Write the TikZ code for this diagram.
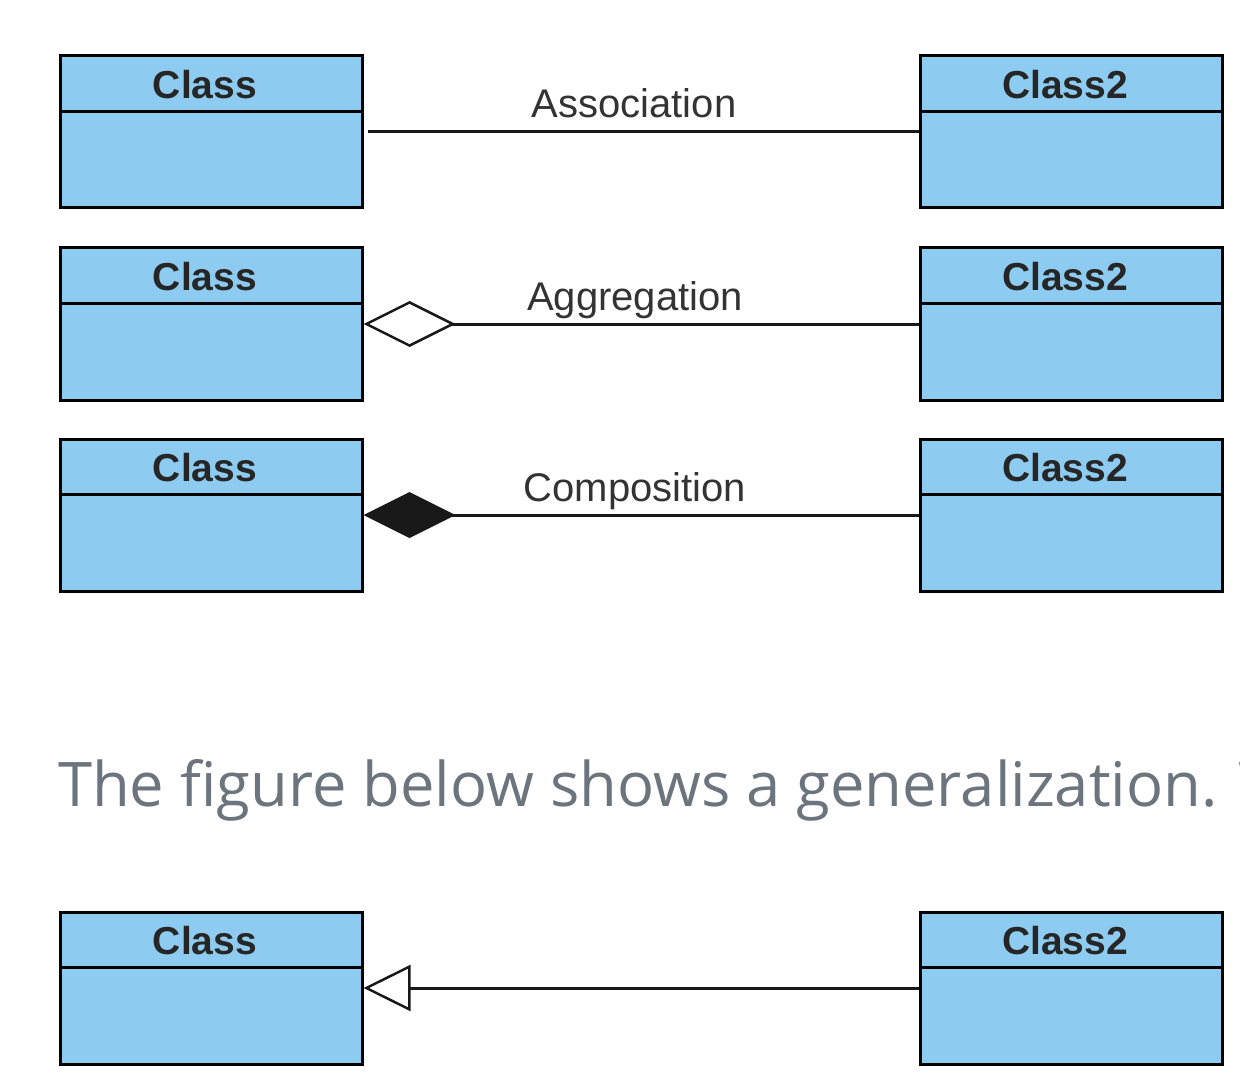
\documentclass[tikz,border=0pt]{standalone}
\usepackage{fontspec}
\setmainfont{Liberation Sans}
\newfontfamily\titlefont{Open Sans}
\usetikzlibrary{arrows.meta}
\definecolor{clsfill}{RGB}{142,203,240}
\definecolor{titlegray}{RGB}{108,117,125}
\tikzset{
  cls/.style={draw=black, line width=3pt, fill=clsfill, minimum width=302pt, minimum height=152pt, inner sep=0pt},
  clsname/.style={anchor=base, font=\fontsize{39}{46}\selectfont\bfseries, text=black!85, inner sep=0pt},
  divider/.style={line width=2.2pt, black},
  conn/.style={line width=3pt, black!90},
  rellabel/.style={font=\fontsize{40}{48}\selectfont, text=black!80, inner sep=0pt, anchor=base}
}
\newcommand{\umlclass}[4]{% name, center x, center y, label
  \node[cls] (#1) at (#2,#3) {};
  \draw[divider] ([yshift=-57pt]#1.north west) -- ([yshift=-57pt]#1.north east);
  \node[clsname] (#1-name) at ([xshift=-6pt,yshift=-44pt]#1.north) {#4};
}
\begin{document}
\begin{tikzpicture}[x=1pt,y=-1pt]
\useasboundingbox (0,0) rectangle (1240,1086);
\clip (0,0) rectangle (1240,1086);
% row 1: association
\umlclass{a1}{211}{132}{Class}
\umlclass{b1}{1071}{132}{Class2}
\draw[conn] ([xshift=4pt]a1.east) -- (b1.west);
\node[rellabel] (lab1) at (634,118) {Association};
% row 2: aggregation
\umlclass{a2}{211}{324}{Class}
\umlclass{b2}{1071}{324}{Class2}
\draw[conn, {Diamond[open, fill=white, length=92pt, width=46pt, line width=2.5pt]}-] (a2.east) -- (b2.west);
\node[rellabel] (lab2) at (635,310) {Aggregation};
% row 3: composition
\umlclass{a3}{211}{515}{Class}
\umlclass{b3}{1071}{515}{Class2}
\draw[conn, {Diamond[length=92pt, width=46pt]}-] (a3.east) -- (b3.west);
\node[rellabel] (lab3) at (635,501) {Composition};
% text
\node[anchor=base west, inner sep=0pt, text=titlegray, font=\titlefont\fontsize{61.5}{72}\selectfont] (title) at (58,806) {The figure below shows a generalization. W};
% row 4: generalization
\umlclass{a4}{211}{988}{Class}
\umlclass{b4}{1071}{988}{Class2}
\draw[conn, {Triangle[open, fill=white, length=47pt, width=46pt, line width=2.5pt]}-] (a4.east) -- (b4.west);
\end{tikzpicture}
\end{document}
